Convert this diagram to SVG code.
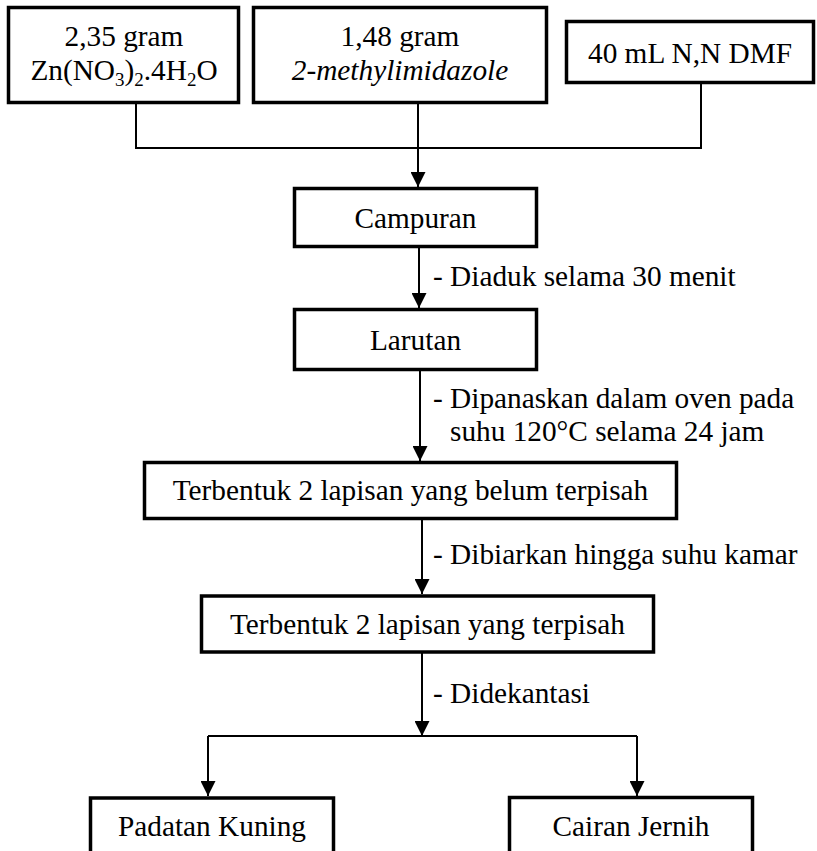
<svg xmlns="http://www.w3.org/2000/svg" width="817" height="851" viewBox="0 0 817 851">
<style>
  .box{fill:#fff;stroke:#000;stroke-width:3.5}
  .t{font-family:"Liberation Serif","Times New Roman",serif;font-size:29.3px;fill:#000}
  .c{text-anchor:middle}
  .ln{fill:none;stroke:#000;stroke-width:2}
  .sub{font-size:19px}
</style>
<defs>
  <marker id="ah" markerUnits="userSpaceOnUse" markerWidth="15" markerHeight="15" refX="15" refY="7.5" orient="auto" viewBox="0 0 15 15">
    <path d="M0,0 L15,7.5 L0,15 z" fill="#000"/>
  </marker>
</defs>
<rect width="817" height="851" fill="#fff"/>
<g id="connectors">
  <path class="ln" d="M136,104 V148 H701 V84"/>
  <path class="ln" d="M418,104 V187" marker-end="url(#ah)"/>
  <path class="ln" d="M419,248 V308" marker-end="url(#ah)"/>
  <path class="ln" d="M420,371 V461" marker-end="url(#ah)"/>
  <path class="ln" d="M422,520 V594" marker-end="url(#ah)"/>
  <path class="ln" d="M422,653 V736" marker-end="url(#ah)"/>
  <path class="ln" d="M208,736 H637"/>
  <path class="ln" d="M208,736 V796" marker-end="url(#ah)"/>
  <path class="ln" d="M637,736 V796" marker-end="url(#ah)"/>
  <text class="t" x="433" y="286">- Diaduk selama 30 menit</text>
  <text class="t" x="433" y="408">- Dipanaskan dalam oven pada</text>
  <text class="t" x="450" y="441">suhu 120°C selama 24 jam</text>
  <text class="t" x="433" y="564">- Dibiarkan hingga suhu kamar</text>
  <text class="t" x="433" y="703">- Didekantasi</text>
</g>
<g id="zn">
  <rect class="box" x="8.5" y="7.5" width="230" height="95"/>
  <text class="t c" x="124" y="46">2,35 gram</text>
  <text class="t c" x="124" y="80">Zn(NO<tspan class="sub" dy="6">3</tspan><tspan dy="-6">)</tspan><tspan class="sub" dy="6">2</tspan><tspan dy="-6">.4H</tspan><tspan class="sub" dy="6">2</tspan><tspan dy="-6">O</tspan></text>
</g>
<g id="mim">
  <rect class="box" x="253.5" y="7.5" width="293" height="95"/>
  <text class="t c" x="400" y="46">1,48 gram</text>
  <text class="t c" x="400" y="80" font-style="italic">2-methylimidazole</text>
</g>
<g id="dmf">
  <rect class="box" x="566.5" y="21.5" width="247" height="61"/>
  <text class="t c" x="690" y="63">40 mL N,N DMF</text>
</g>
<g id="campuran">
  <rect class="box" x="294.5" y="188.5" width="242" height="58"/>
  <text class="t c" x="415.5" y="228">Campuran</text>
</g>
<g id="larutan">
  <rect class="box" x="294.5" y="309.5" width="242" height="60"/>
  <text class="t c" x="415.5" y="350">Larutan</text>
</g>
<g id="belum">
  <rect class="box" x="144.5" y="462.5" width="532" height="56"/>
  <text class="t c" x="410.5" y="500">Terbentuk 2 lapisan yang belum terpisah</text>
</g>
<g id="terpisah">
  <rect class="box" x="201.5" y="596" width="452" height="56"/>
  <text class="t c" x="427.5" y="634">Terbentuk 2 lapisan yang terpisah</text>
</g>
<g id="padatan">
  <rect class="box" x="90.5" y="798" width="243" height="80"/>
  <text class="t c" x="212" y="836">Padatan Kuning</text>
</g>
<g id="cairan">
  <rect class="box" x="509.5" y="797.5" width="243" height="80"/>
  <text class="t c" x="631" y="836">Cairan Jernih</text>
</g>
</svg>
